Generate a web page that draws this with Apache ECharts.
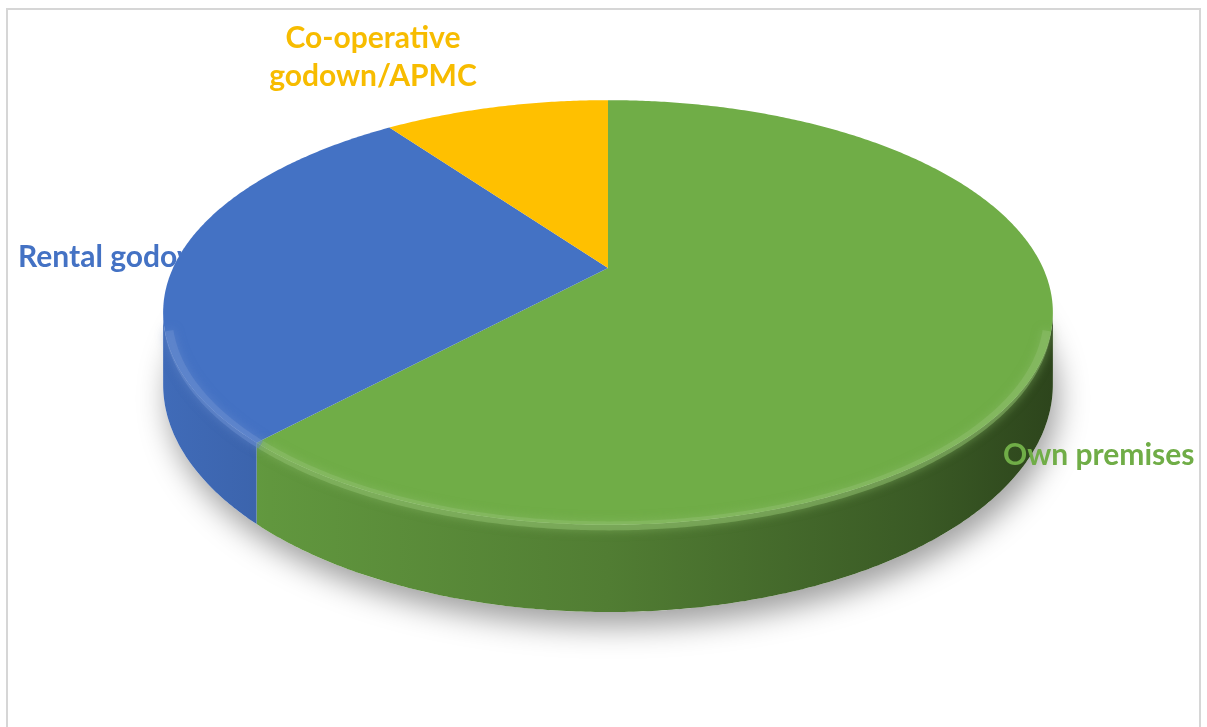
<!DOCTYPE html>
<html>
<head>
<meta charset="utf-8">
<title>Storage facility</title>
<script src="https://cdn.jsdelivr.net/npm/echarts@6/dist/echarts.min.js"></script>
<style>
  html, body { margin: 0; padding: 0; background: #ffffff; }
  #chart { width: 1207px; height: 727px; }
</style>
</head>
<body>
<div id="chart"></div>
<script>
// Where the storage is kept (share of respondents, %)
const categories = ['Own premises', 'Rental godown', 'Co-operative godown/APMC'];
const shares = [62, 28, 10];
const sliceColors = ['#70AD47', '#4472C4', '#FFC000'];
const labelColors = ['#70AD47', '#4472C4', '#F7BC00'];
const labelTexts = ['Own premises', 'Rental godown', 'Co-operative\ngodown/APMC'];

// Perspective view of the disc: apex, half-axes, perspective strength, thickness
const view = { cx: 608, cy: 268, a: 435, b: 203, k: 0.2094, depth: 69 };
// Label anchors (bottom of the last text line)
const labelLayout = [
  { x: 1003, y: 474, align: 'left', z2: 100 },
  { x: 18, y: 276, align: 'left', z2: -100 },
  { x: 373, y: 95, align: 'center', z2: 100 }
];
const FONT = 'Lato, "Noto Sans", sans-serif';

const total = shares.reduce((s, v) => s + v, 0);
const startShare = [];
shares.reduce((acc, v, i) => { startShare[i] = acc; return acc + v; }, 0);

function project(phiDeg, r, z) {
  const p = phiDeg * Math.PI / 180;
  const X = r * Math.sin(p), Y = -r * Math.cos(p);
  const w = 1 - view.k * Y;
  return [view.cx + view.a * X / w, view.cy + (view.b * Y + view.depth * z) / w];
}
function arc(p0, p1, r, z) {
  const pts = [];
  const n = Math.max(2, Math.ceil(Math.abs(p1 - p0) / 0.5));
  for (let i = 0; i <= n; i++) pts.push(project(p0 + (p1 - p0) * i / n, r, z));
  return pts;
}
function shade(hex, f) {
  const n = parseInt(hex.slice(1), 16);
  const c = [(n >> 16) & 255, (n >> 8) & 255, n & 255].map(v => Math.max(0, Math.min(255, Math.round(v * f))));
  return 'rgb(' + c.join(',') + ')';
}
function lighten(hex, t) {
  const n = parseInt(hex.slice(1), 16);
  const c = [(n >> 16) & 255, (n >> 8) & 255, n & 255].map(v => Math.round(v + (255 - v) * t));
  return 'rgb(' + c.join(',') + ')';
}

// visible part of the outer wall (facing the viewer)
const silA = Math.acos(-view.k) * 180 / Math.PI;
const silB = 360 - silA;
const leftX = view.cx - view.a / Math.sqrt(1 - view.k * view.k);
const rightX = view.cx + view.a / Math.sqrt(1 - view.k * view.k);

function renderItem(params, api) {
  const i = params.dataIndex;
  const value = api.value(0);
  const start = startShare[i] / total * 360;
  const end = start + value / total * 360;
  const color = sliceColors[i];
  const children = [];

  if (i === 0) {
    // soft shadow under the whole disc
    children.push({
      type: 'polygon', z2: -50, silent: true,
      shape: { points: arc(0, 360, 1, 1) },
      style: { fill: '#ffffff', shadowColor: 'rgba(0,0,0,0.38)', shadowBlur: 30, shadowOffsetX: 5, shadowOffsetY: 14 }
    });
  }

  // outer wall
  const s0 = Math.max(start, silA), s1 = Math.min(end, silB);
  if (s1 > s0) {
    const top = arc(s0, s1, 1, 0);
    const bottom = arc(s1, s0, 1, 1);
    children.push({
      type: 'polygon', z2: 0,
      shape: { points: top.concat(bottom) },
      style: {
        fill: {
          type: 'linear', global: true, x: leftX, y: 0, x2: rightX, y2: 0,
          colorStops: [
            { offset: 0, color: shade(color, 0.94) },
            { offset: 0.12, color: shade(color, 0.87) },
            { offset: 0.5, color: shade(color, 0.72) },
            { offset: 0.85, color: shade(color, 0.52) },
            { offset: 1, color: shade(color, 0.4) }
          ]
        }
      }
    });
    // rounded rim highlight along the front edge
    const h0 = Math.max(start, silA + 4), h1 = Math.min(end, silB - 4);
    if (h1 > h0) {
      children.push({
        type: 'polyline', z2: 20, silent: true,
        shape: { points: arc(h0, h1, 0.99, 0.05) },
        style: {
          fill: null, stroke: lighten(color, 0.2), lineWidth: 9, opacity: 0.5,
          shadowColor: lighten(color, 0.2), shadowBlur: 10
        }
      });
    }
  }

  // top face
  children.push({
    type: 'polygon', z2: 10,
    shape: { points: [[view.cx, view.cy]].concat(arc(start, end, 1, 0)) },
    style: { fill: color }
  });

  // category label
  const L = labelLayout[i];
  children.push({
    type: 'text', z2: L.z2, silent: true,
    x: L.x, y: L.y,
    style: {
      text: labelTexts[i], fill: labelColors[i],
      fontFamily: FONT, fontWeight: 'bold', fontSize: 30, lineHeight: 38,
      align: L.align, verticalAlign: 'bottom'
    }
  });

  return { type: 'group', children: children };
}

const chart = echarts.init(document.getElementById('chart'), null, { renderer: 'canvas' });
chart.setOption({
  backgroundColor: '#ffffff',
  animation: false,
  graphic: [{
    type: 'rect', z: -10, silent: true,
    shape: { x: 7, y: 9, width: 1193, height: 740 },
    style: { fill: null, stroke: '#d6d6d6', lineWidth: 2 }
  }],
  series: [{
    type: 'custom',
    name: 'Storage',
    coordinateSystem: 'none',
    renderItem: renderItem,
    data: shares.map((v, i) => ({ name: categories[i], value: [v] }))
  }]
});
</script>
</body>
</html>
